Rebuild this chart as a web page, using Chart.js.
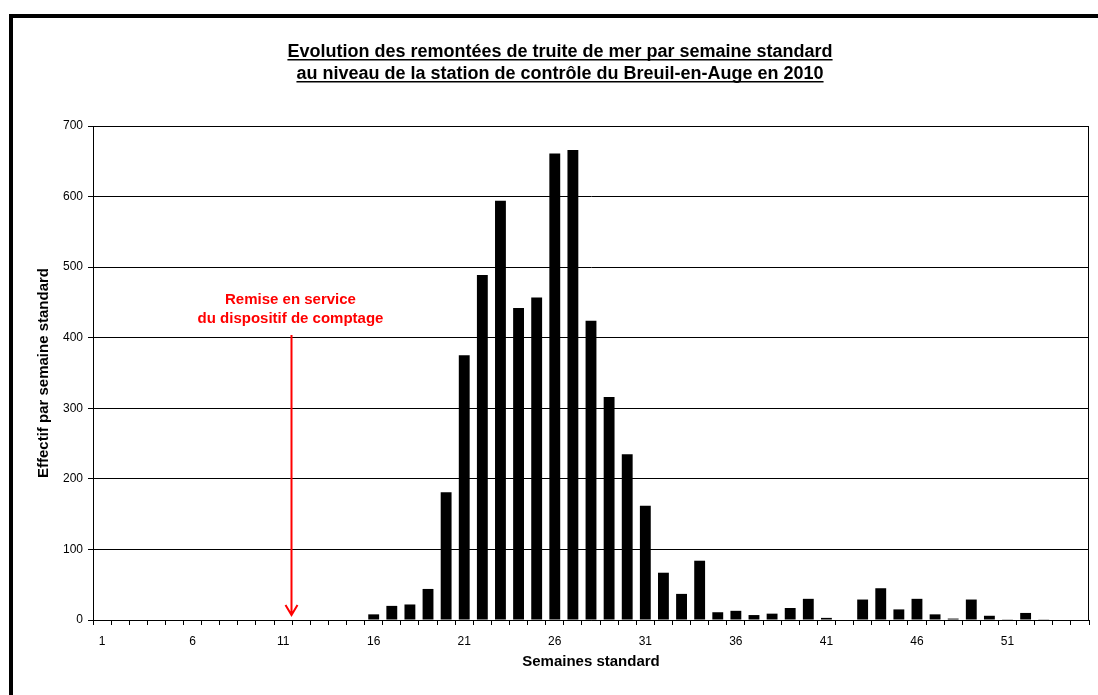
<!DOCTYPE html>
<html>
<head>
<meta charset="utf-8">
<script src="https://cdn.jsdelivr.net/npm/chart.js"></script>
<style>
  body { margin: 0; background: #fff; }
  #wrap { width: 1098px; height: 695px; }
</style>
</head>
<body>
<div id="wrap"><canvas id="myChart" width="1098" height="695"></canvas></div>
<script>
const weeks = ['1','2','3','4','5','6','7','8','9','10','11','12','13','14','15','16','17','18','19','20',
    '21','22','23','24','25','26','27','28','29','30','31','32','33','34','35','36','37','38','39','40',
    '41','42','43','44','45','46','47','48','49','50','51','52','53','54','55']
const counts = [0,0,0,0,0,0,0,0,0,0,0,0,0,0,0,8,20,22,44,181,
    375,489,594,442,457,661,666,424,316,235,162,67,37,84,11,13,7,9,17,30,
    3,0,29,45,15,30,8,2,29,6,1,10,1,0,0]
const yTicks = [0, 100, 200, 300, 400, 500, 600, 700]

const titleLines = [
    'Evolution des remontées de truite de mer par semaine standard',
    'au niveau de la station de contrôle du Breuil-en-Auge en 2010'
]
const noteLines = ['Remise en service', 'du dispositif de comptage']
const noteAfterWeek = 11      // arrow sits between week 11 and 12
const noteArrowFrom = 404
const noteArrowTo = 7

const FONT = '"Liberation Sans", Arial, sans-serif'

const decor = {
    id: 'decor',
    beforeDraw(chart) {
        const c = chart.ctx
        c.save()
        c.fillStyle = '#fff'
        c.fillRect(0, 0, chart.width, chart.height)
        // outer frame (cropped box)
        c.fillStyle = '#000'
        c.fillRect(9, 14, 4, chart.height - 14)
        c.fillRect(9, 14, chart.width - 9, 4)
        // title, underlined
        c.font = 'bold 18px ' + FONT
        c.textAlign = 'center'
        c.textBaseline = 'alphabetic'
        const cx = 560
        titleLines.forEach((t, i) => {
            const y = 57 + i * 22
            c.fillText(t, cx, y)
            const w = c.measureText(t).width
            c.fillRect(cx - w / 2, y + 2, w, 1.5)
        })
        c.restore()
    },
    afterDraw(chart) {
        const c = chart.ctx
        const a = chart.chartArea
        const xs = chart.scales.x
        const ys = chart.scales.y
        c.save()
        // plot frame top/right
        c.strokeStyle = '#000'
        c.lineWidth = 1
        c.beginPath()
        c.moveTo(a.left, a.top + 0.5)
        c.lineTo(a.right - 0.5, a.top + 0.5)
        c.lineTo(a.right - 0.5, a.bottom)
        c.stroke()

        // annotation arrow
        const x0 = xs.getPixelForValue(noteAfterWeek - 1)
        const x1 = xs.getPixelForValue(noteAfterWeek)
        const ax = Math.round((x0 + x1) / 2) - 0.5
        const yTop = ys.getPixelForValue(noteArrowFrom)
        const yBot = ys.getPixelForValue(noteArrowTo)
        c.strokeStyle = '#ff0000'
        c.lineWidth = 2
        c.beginPath()
        c.moveTo(ax, yTop)
        c.lineTo(ax, yBot)
        c.moveTo(ax - 6, yBot - 10)
        c.lineTo(ax, yBot)
        c.lineTo(ax + 6, yBot - 10)
        c.stroke()

        c.fillStyle = '#ff0000'
        c.font = 'bold 15px ' + FONT
        c.textAlign = 'center'
        c.fillText(noteLines[0], ax - 1, yTop - 31)
        c.fillText(noteLines[1], ax - 1, yTop - 12)
        c.restore()
    }
}

const ctx = document.getElementById('myChart')

new Chart(ctx, {
    type: 'bar',
    data: {
        labels: weeks,
        datasets: [{
            label: 'Effectif',
            data: counts,
            backgroundColor: '#000',
            borderWidth: 0,
            barPercentage: 0.6,
            categoryPercentage: 1.0
        }]
    },
    options: {
        responsive: false,
        animation: false,
        layout: { padding: { top: 126, right: 9, bottom: 20, left: 31 } },
        plugins: {
            legend: { display: false },
            tooltip: { enabled: false }
        },
        scales: {
            x: {
                offset: true,
                afterFit: s => { s.height = 55 },
                grid: {
                    offset: true,
                    drawOnChartArea: false,
                    tickLength: 5,
                    color: '#000'
                },
                border: { color: '#000', width: 1 },
                ticks: {
                    autoSkip: false,
                    maxRotation: 0,
                    padding: 9,
                    color: '#000',
                    font: { family: FONT, size: 12 },
                    callback: (v, i) => (i % 5 === 0 ? weeks[i] : '')
                },
                title: {
                    display: true,
                    text: 'Semaines standard',
                    color: '#000',
                    font: { family: FONT, size: 15, weight: 'bold' }
                }
            },
            y: {
                min: 0,
                max: 700,
                afterFit: s => { s.width = 62 },
                afterBuildTicks: s => { s.ticks = yTicks.map(v => ({ value: v })) },
                grid: {
                    color: '#000',
                    lineWidth: 1,
                    tickLength: 5
                },
                border: { color: '#000', width: 1 },
                ticks: {
                    padding: 5,
                    color: '#000',
                    font: { family: FONT, size: 12 }
                },
                title: {
                    display: true,
                    text: 'Effectif par semaine standard',
                    color: '#000',
                    font: { family: FONT, size: 15, weight: 'bold' }
                }
            }
        }
    },
    plugins: [decor]
})
</script>
</body>
</html>
